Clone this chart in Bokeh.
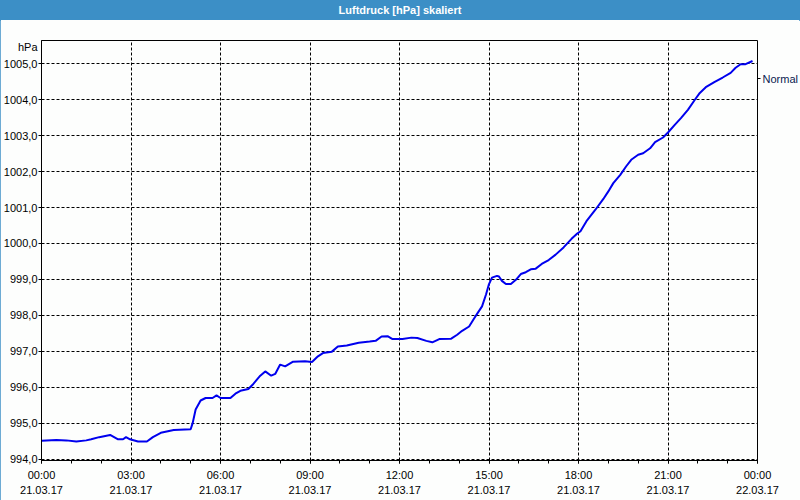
from datetime import datetime, timezone
from bokeh.plotting import figure
from bokeh.models import (Range1d, FixedTicker, CustomJSTickFormatter, LinearAxis,
                          Div, ColumnDataSource, Grid)
from bokeh.layouts import column
from bokeh.embed import file_html
from bokeh.resources import INLINE

# ---------------- data ----------------
title_text = "Luftdruck [hPa] skaliert"
unit_label = "hPa"
series_name = "Normal"
start_day = (2017, 3, 21)

# minutes after 00:00 on 21.03.17
minutes = [0, 30, 50, 70, 90, 100, 116, 138, 154, 164, 170, 178, 194, 212, 224, 240,
           266, 300, 304, 310, 320, 330, 344, 352, 360, 380, 390, 400, 416, 426, 440,
           450, 462, 470, 480, 490, 506, 530, 544, 556, 566, 584, 596, 614, 638, 660,
           672, 684, 696, 706, 726, 744, 756, 774, 786, 800, 824, 836, 846, 860, 870,
           876, 886, 894, 900, 906, 916, 920, 926, 934, 944, 954, 964, 974, 984, 994,
           1006, 1020, 1034, 1050, 1066, 1076, 1084, 1096, 1114, 1130, 1140, 1150, 1164,
           1176, 1186, 1200, 1210, 1224, 1234, 1250, 1260, 1274, 1286, 1300, 1314, 1324,
           1336, 1354, 1370, 1386, 1396, 1406, 1416, 1430]
pressure_hpa = [994.51, 994.53, 994.52, 994.49, 994.52, 994.55, 994.61, 994.67, 994.55,
                994.55, 994.61, 994.55, 994.49, 994.49, 994.61, 994.73, 994.81, 994.83,
                995.00, 995.38, 995.63, 995.70, 995.70, 995.77, 995.70, 995.70, 995.82,
                995.90, 995.95, 996.09, 996.32, 996.44, 996.32, 996.37, 996.63, 996.58,
                996.71, 996.72, 996.70, 996.86, 996.95, 996.99, 997.13, 997.16, 997.24,
                997.27, 997.29, 997.41, 997.42, 997.34, 997.34, 997.38, 997.37, 997.29,
                997.25, 997.34, 997.35, 997.46, 997.57, 997.69, 997.91, 998.04, 998.25,
                998.58, 998.87, 999.05, 999.10, 999.08, 998.96, 998.87, 998.87, 998.99,
                999.15, 999.20, 999.28, 999.30, 999.43, 999.54, 999.69, 999.89, 1000.13,
                1000.26, 1000.34, 1000.62, 1000.94, 1001.24, 1001.45, 1001.68, 1001.91,
                1002.15, 1002.33, 1002.47, 1002.51, 1002.65, 1002.82, 1002.95, 1003.09,
                1003.31, 1003.49, 1003.72, 1004.00, 1004.19, 1004.35, 1004.50, 1004.62,
                1004.75, 1004.89, 1004.99, 1004.99, 1005.08]
y_ticks = [994, 995, 996, 997, 998, 999, 1000, 1001, 1002, 1003, 1004, 1005]
x_major_hours = [0, 3, 6, 9, 12, 15, 18, 21, 24]
x_minor_hours = list(range(0, 25))

# ---------------- styling constants ----------------
Y_START, Y_END = 993.96, 1005.65
NORMAL_POS = 1004.58
HPA_POS = 1005.48
FONT = "Liberation Sans"
BG = "#fdfefd"
BAR = "#3c8fc6"
LINE = "#0000ee"

t0_ms = datetime(*start_day, tzinfo=timezone.utc).timestamp() * 1000.0
H = 3600 * 1000.0
x_ms = [t0_ms + m * 60000.0 for m in minutes]
src = ColumnDataSource(dict(t=x_ms, p=pressure_hpa))

p = figure(width=800, height=480, x_axis_type=None, y_axis_type=None,
           output_backend="svg", toolbar_location=None,
           x_range=Range1d(t0_ms, t0_ms + 24 * H), y_range=Range1d(Y_START, Y_END),
           min_border_left=40, min_border_right=40, min_border_top=20, min_border_bottom=40,
           background_fill_color=BG, border_fill_color=BG)
p.outline_line_color = "black"
p.outline_line_width = 1

xticker = FixedTicker(ticks=[t0_ms + h * H for h in x_major_hours],
                      minor_ticks=[t0_ms + h * H for h in x_minor_hours])
yticker = FixedTicker(ticks=y_ticks)

p.add_layout(Grid(dimension=0, ticker=xticker, grid_line_color="black",
                  grid_line_dash="3 2", grid_line_width=1))
p.add_layout(Grid(dimension=1, ticker=yticker, grid_line_color="black",
                  grid_line_dash="3 2", grid_line_width=1))

time_fmt = CustomJSTickFormatter(code="""
const d = new Date(tick);
const h = String(d.getUTCHours()).padStart(2, '0');
const m = String(d.getUTCMinutes()).padStart(2, '0');
return h + ':' + m;""")
date_fmt = CustomJSTickFormatter(code="""
const d = new Date(tick);
const dd = String(d.getUTCDate()).padStart(2, '0');
const mm = String(d.getUTCMonth() + 1).padStart(2, '0');
const yy = String(d.getUTCFullYear() % 100).padStart(2, '0');
return dd + '.' + mm + '.' + yy;""")

xa1 = LinearAxis(ticker=xticker, formatter=time_fmt,
                 major_tick_out=3, major_tick_in=0, minor_tick_out=3, minor_tick_in=0,
                 major_label_standoff=5, major_label_text_font=FONT,
                 major_label_text_font_size="11px", major_label_text_color="black",
                 axis_line_color="black", major_tick_line_color="black",
                 minor_tick_line_color="black")
xa2 = LinearAxis(ticker=xticker, formatter=date_fmt,
                 major_tick_out=0, major_tick_in=0, minor_tick_out=0, minor_tick_in=0,
                 major_label_standoff=2, major_label_text_font=FONT,
                 major_label_text_font_size="11px", major_label_text_color="black",
                 axis_line_color=None, major_tick_line_color=None,
                 minor_tick_line_color=None)
p.add_layout(xa1, "below")
p.add_layout(xa2, "below")

# left: an axis with the tick marks only, then an axis with the labels (incl. unit)
ya_ticks = LinearAxis(ticker=yticker, formatter=CustomJSTickFormatter(code="return '';"),
                      major_tick_out=3, major_tick_in=0, minor_tick_out=0, minor_tick_in=0,
                      major_label_standoff=0, major_label_text_font_size="11px",
                      axis_line_color="black", major_tick_line_color="black")
ya_labels = LinearAxis(ticker=FixedTicker(ticks=y_ticks + [HPA_POS]),
                       formatter=CustomJSTickFormatter(
                           args=dict(unit=unit_label, upos=HPA_POS),
                           code="if (Math.abs(tick - upos) < 1e-6) { return unit; } "
                                "return tick.toFixed(1).replace('.', ',');"),
                       major_tick_out=0, major_tick_in=0, minor_tick_out=0, minor_tick_in=0,
                       major_label_standoff=1, major_label_text_font=FONT,
                       major_label_text_font_size="11px", major_label_text_color="black",
                       axis_line_color=None, major_tick_line_color=None,
                       minor_tick_line_color=None)
p.add_layout(ya_ticks, "left")
p.add_layout(ya_labels, "left")

ra = LinearAxis(ticker=FixedTicker(ticks=[NORMAL_POS]),
                formatter=CustomJSTickFormatter(args=dict(name=series_name), code="return name;"),
                major_tick_out=3, major_tick_in=0, minor_tick_out=0, minor_tick_in=0,
                major_label_standoff=2, major_label_text_font=FONT,
                major_label_text_font_size="11px", major_label_text_color="#0a1a50",
                axis_line_color=None, major_tick_line_color="black")
p.add_layout(ra, "right")

p.line("t", "p", source=src, line_color=LINE, line_width=2)

title = Div(text=title_text, width=800, height=20,
            styles={"background-color": BAR, "color": "white", "font-weight": "bold",
                    "text-align": "center", "font-family": FONT, "font-size": "11px",
                    "line-height": "20px", "margin": "0", "padding": "0"})

layout = column(title, p, spacing=0,
                styles={"background-color": BG, "outline": "1px solid " + BAR,
                        "outline-offset": "-1px"})
open("out.html", "w").write(file_html(layout, INLINE))
